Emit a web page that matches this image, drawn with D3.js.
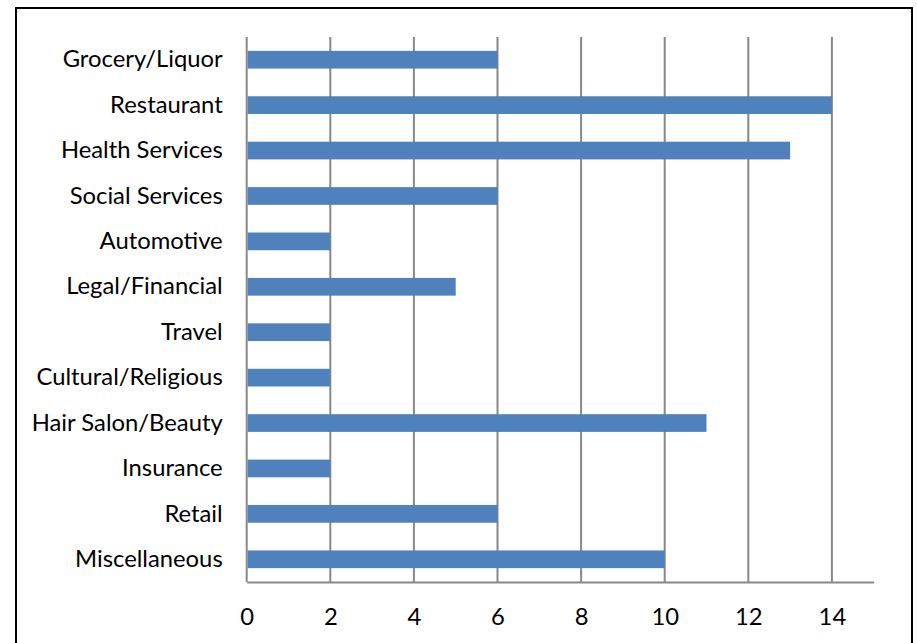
<!DOCTYPE html>
<html><head><meta charset="utf-8">
<script src="https://cdn.jsdelivr.net/npm/d3@7"></script>
<style>body{margin:0;background:#fff}svg{display:block}</style>
</head><body>
<svg id="c" width="917" height="643"></svg>
<script>
const categories = ["Grocery/Liquor","Restaurant","Health Services","Social Services","Automotive","Legal/Financial","Travel","Cultural/Religious","Hair Salon/Beauty","Insurance","Retail","Miscellaneous"];
const values = [6,14,13,6,2,5,2,2,11,2,6,10];
const xTicks = [0,2,4,6,8,10,12,14];

const svg = d3.select("#c");
const font = "Lato, 'Open Sans', sans-serif";
const fs = 23.8;
const pLeft = 246.7, pRight = 873.7, pTop = 37, pBottom = 582;

svg.append("rect").attr("x",16).attr("y",8).attr("width",896).attr("height",660)
  .attr("fill","none").attr("stroke","#000").attr("stroke-width",2);

const x = d3.scaleLinear().domain([0,15]).range([pLeft,pRight]);
const y = d3.scaleBand().domain(categories).range([pTop,pBottom]).paddingInner(0.61).paddingOuter(0.305);

// gridlines
svg.append("g").selectAll("line").data(xTicks).join("line")
  .attr("x1",d=>x(d)).attr("x2",d=>x(d)).attr("y1",pTop).attr("y2",pBottom)
  .attr("stroke","#888").attr("stroke-width",2);

// bars
svg.append("g").selectAll("rect").data(values).join("rect")
  .attr("x",x(0)+1).attr("y",(d,i)=>y(categories[i]))
  .attr("width",d=>x(d)-x(0)-1).attr("height",y.bandwidth())
  .attr("fill","#4F81BD");

// x axis
const xa = svg.append("g").attr("transform",`translate(0,${pBottom})`)
  .call(d3.axisBottom(x).tickValues(xTicks).tickSize(0).tickPadding(26));
xa.select(".domain").attr("stroke","#888").attr("stroke-width",2);
xa.selectAll("text").attr("font-family",font).attr("font-size",fs).attr("fill","#000");

// y axis labels
const ya = svg.append("g").attr("transform",`translate(${pLeft},0)`)
  .call(d3.axisLeft(y).tickSize(0).tickPadding(24));
ya.select(".domain").remove();
ya.selectAll("text").attr("font-family",font).attr("font-size",fs).attr("fill","#000");
</script>
</body></html>
